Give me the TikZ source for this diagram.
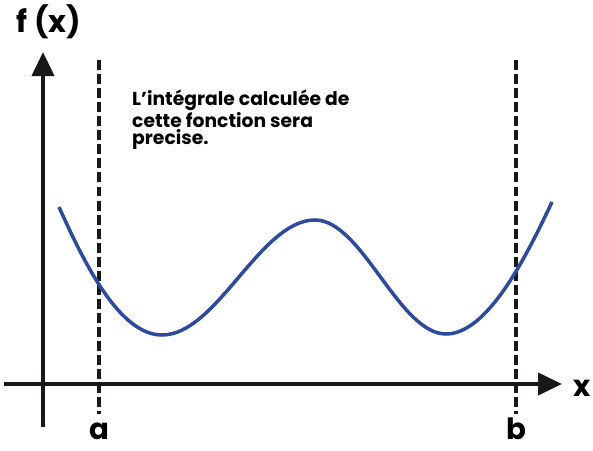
\documentclass[tikz,border=0pt]{standalone}
\usepackage{fontspec}
\setmainfont{Poppins}
\usetikzlibrary{arrows.meta}
\definecolor{bleu}{HTML}{2E4B9B}
\definecolor{noir}{HTML}{1A1718}
\tikzset{
  axe/.style={-{Triangle[length=0.72cm,width=0.66cm]},noir,line width=3.4pt},
  borne/.style={noir,line width=2.6pt,dash pattern=on 8.5pt off 3.5pt},
  courbe/.style={bleu,line width=3pt},
  etiq/.style={font=\fontsize{25}{25}\selectfont\bfseries,inner sep=0pt},
  texte/.style={font=\fontsize{16}{15}\selectfont\bfseries,align=left,anchor=north west,inner sep=0pt},
}
\begin{document}
\begin{tikzpicture}[x=0.03cm,y=-0.03cm]
  \useasboundingbox (0,0) rectangle (593,450);
  \coordinate (ybas) at (43,427);
  \coordinate (yhaut) at (43,52);
  \coordinate (xgauche) at (4,384);
  \coordinate (xdroite) at (562,384);
  \draw[axe] (ybas)--(yhaut);
  \draw[axe] (xgauche)--(xdroite);
  \coordinate (ahaut) at (99,60); \coordinate (abas) at (99,414);
  \coordinate (bhaut) at (516,60); \coordinate (bbas) at (516,414);
  \draw[borne] (ahaut)--(abas);
  \draw[borne] (bhaut)--(bbas);
  \draw[courbe] (59,207) .. controls (85,265) and (120,335) .. (162,335)
    .. controls (217,335) and (260,220) .. (315,220)
    .. controls (362,220) and (399,334) .. (446,334)
    .. controls (488,334) and (527,255) .. (552,202);
  \node[etiq,font=\fontsize{26}{26}\selectfont\bfseries] (fx) at (49,22) {f (x)};
  \node[etiq] (xlab) at (582,388) {x};
  \node[etiq,anchor=base] (alab) at (99,439) {a};
  \node[etiq,anchor=base] (blab) at (516,439) {b};
  \node[texte] (note) at (132,90) {L’intégrale calculée de\\cette fonction sera\\precise.};
\end{tikzpicture}
\end{document}
